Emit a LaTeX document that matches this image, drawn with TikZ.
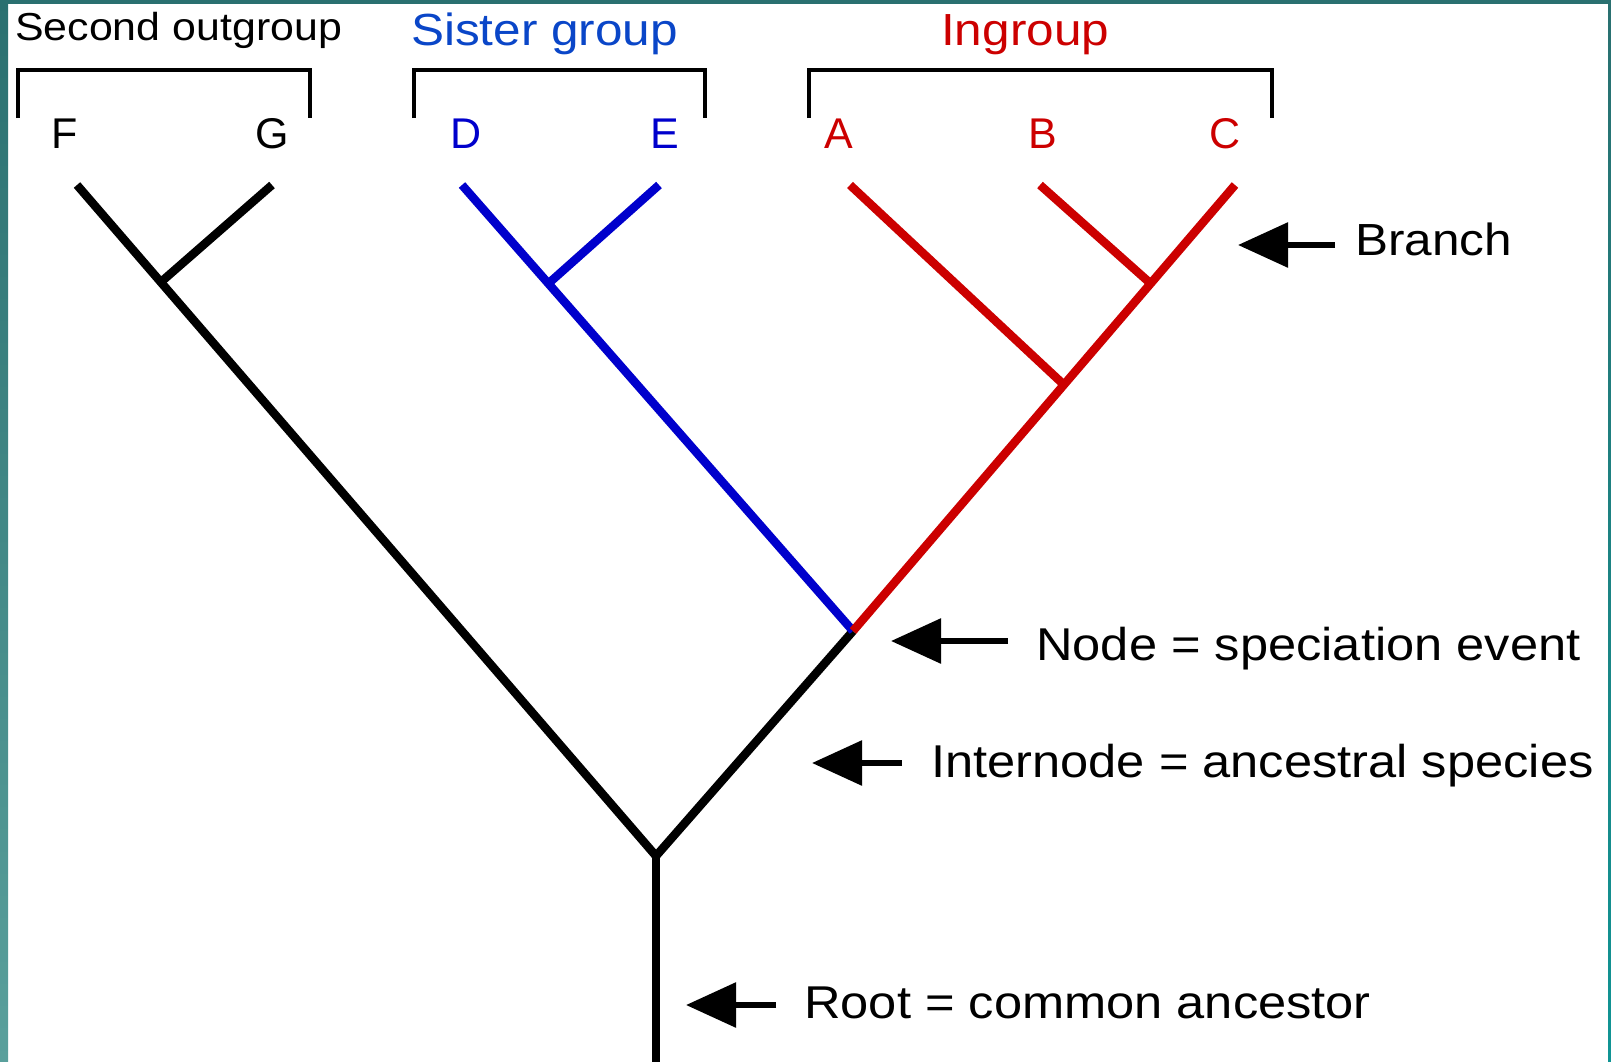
\documentclass[tikz,border=0pt]{standalone}
\usepackage{fontspec}
\setmainfont{Liberation Sans}
\usetikzlibrary{arrows.meta}
\definecolor{tealtop}{HTML}{2A7070}
\definecolor{tealleft}{HTML}{5AA09C}
\definecolor{tealright}{HTML}{109494}
\definecolor{treeblue}{HTML}{0000CC}
\definecolor{labelblue}{HTML}{0A46C8}
\definecolor{treered}{HTML}{CC0000}
\newcommand{\stretchtxt}[1]{\scalebox{1.1}[1]{#1}}
\begin{document}
\begin{tikzpicture}[x=1pt,y=-1pt,
  tree/.style={line width=8.5pt, line join=miter},
  bracket/.style={line width=4.5pt},
  lbl/.style={inner sep=0pt, anchor=base west},
  leaf/.style={inner sep=0pt, anchor=base, font=\fontsize{43}{48}\selectfont},
  bigarrow/.style={line width=6pt, -{Triangle[length=50pt,width=44pt]}}]
% background and frame
\fill[white] (0,0) rectangle (1611,1061);
\useasboundingbox (0,0) rectangle (1611,1061);
\shade[top color=tealtop, bottom color=tealleft] (0,0) rectangle (8,1061);
\shade[top color=tealtop, bottom color=tealright] (1608,0) rectangle (1611,1061);
\fill[tealtop] (0,0) rectangle (1611,4);

% group labels
\node[lbl, font=\fontsize{39}{44}\selectfont] (so) at (15,40) {\stretchtxt{Second outgroup}};
\node[lbl, font=\fontsize{45}{50}\selectfont, text=labelblue] (sg) at (411,45) {\stretchtxt{Sister group}};
\node[lbl, font=\fontsize{45}{50}\selectfont, text=treered] (ig) at (941,45) {\stretchtxt{Ingroup}};

% brackets
\draw[bracket] (18,118) -- (18,70) -- (310,70) -- (310,118);
\draw[bracket] (414,118) -- (414,70) -- (705,70) -- (705,118);
\draw[bracket] (809,118) -- (809,70) -- (1272,70) -- (1272,118);

% leaf labels
\node[leaf] (tF) at (65,148) {F};
\node[leaf] (tG) at (272,148) {G};
\node[leaf, text=treeblue] (tD) at (466,148) {D};
\node[leaf, text=treeblue] (tE) at (665,148) {E};
\node[leaf, text=treered] (tA) at (839,148) {A};
\node[leaf, text=treered] (tB) at (1043,148) {B};
\node[leaf, text=treered] (tC) at (1225,148) {C};

% tree coordinates
\coordinate (R0) at (656,1066);
\coordinate (R) at (656,856);
\coordinate (N) at (853,631);
\coordinate (F) at (77,185);
\coordinate (GJ) at (161,282);
\coordinate (G) at (272,185);
\coordinate (D) at (462,185);
\coordinate (EJ) at (549,283);
\coordinate (E) at (659,185);
\coordinate (A) at (850,185);
\coordinate (AJ) at (1062,383);
\coordinate (B) at (1040,185);
\coordinate (BJ) at (1150,283);
\coordinate (C) at (1235,185);

% tree
\draw[tree] (R0) -- (R);
\draw[tree] (F) -- (R) -- (N);
\draw[tree] (GJ) -- (G);
\draw[tree, treeblue] (D) -- (N);
\draw[tree, treeblue] (EJ) -- (E);
\draw[tree, treered] (N) -- (C);
\draw[tree, treered] (AJ) -- (A);
\draw[tree, treered] (BJ) -- (B);

% annotations
\node[lbl, font=\fontsize{45}{50}\selectfont] (tbranch) at (1355,255) {\stretchtxt{Branch}};
\node[lbl, font=\fontsize{46}{50}\selectfont] (tnode) at (1036,660) {\stretchtxt{Node = speciation event}};
\node[lbl, font=\fontsize{46}{50}\selectfont] (tinter) at (931,777) {\stretchtxt{Internode = ancestral species}};
\node[lbl, font=\fontsize{46}{50}\selectfont] (troot) at (804,1018) {\stretchtxt{Root = common ancestor}};

\coordinate (aB1) at (1335,245); \coordinate (aB2) at (1238,245);
\coordinate (aN1) at (1008,641); \coordinate (aN2) at (891,641);
\coordinate (aI1) at (902,763);  \coordinate (aI2) at (812,763);
\coordinate (aR1) at (776,1005); \coordinate (aR2) at (686,1005);
\draw[bigarrow] (aB1) -- (aB2);
\draw[bigarrow] (aN1) -- (aN2);
\draw[bigarrow] (aI1) -- (aI2);
\draw[bigarrow] (aR1) -- (aR2);
\end{tikzpicture}
\end{document}
